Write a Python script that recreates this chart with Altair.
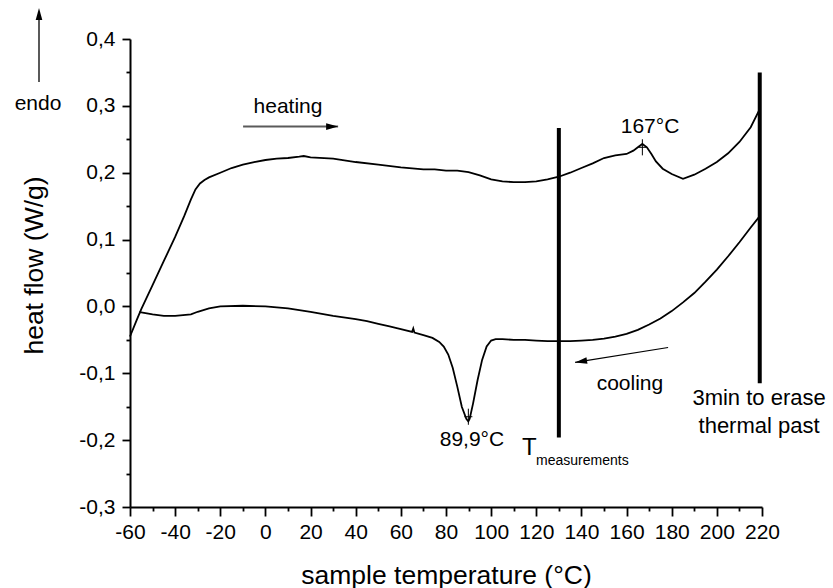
import altair as alt
import pandas as pd

# ---- data ----
heat_x = [-60, -57, -55, -50, -45, -40, -36, -33, -31, -29, -27, -25, -20, -15, -10, -5, 0, 5, 10, 15, 17,
          20, 30, 40, 50, 60, 70, 75, 80, 85, 90, 95, 100, 105, 110, 115, 120, 125, 130, 135, 140, 145,
          150, 155, 160, 163, 165, 167, 169, 171, 173, 176, 180, 185, 190, 195, 200, 205, 210, 215, 219]
heat_y = [-0.045, -0.02, -0.004, 0.032, 0.068, 0.104, 0.135, 0.16, 0.175, 0.184, 0.189, 0.193, 0.2, 0.207,
          0.212, 0.216, 0.219, 0.221, 0.222, 0.224, 0.225, 0.223, 0.221, 0.216, 0.212, 0.208, 0.205, 0.205,
          0.203, 0.203, 0.201, 0.196, 0.19, 0.187, 0.186, 0.186, 0.187, 0.19, 0.194, 0.2, 0.207, 0.214,
          0.222, 0.226, 0.228, 0.233, 0.238, 0.243, 0.238, 0.228, 0.217, 0.206, 0.198, 0.191, 0.197, 0.206,
          0.216, 0.229, 0.246, 0.268, 0.295]

cool_x = [219, 215, 210, 205, 200, 195, 190, 185, 180, 175, 170, 165, 160, 155, 150, 145, 140, 135, 130,
          125, 120, 115, 110, 105, 102, 100, 98, 96, 94, 92, 90.5, 89.9, 89, 87, 85, 83, 81, 79, 77, 74,
          70, 66, 65.5, 65, 60, 55, 50, 45, 40, 30, 20, 10, 0, -10, -20, -25, -30, -33, -40, -45, -50,
          -55, -56]
cool_y = [0.135, 0.118, 0.096, 0.075, 0.055, 0.037, 0.02, 0.006, -0.007, -0.018, -0.027, -0.035, -0.041,
          -0.045, -0.048, -0.05, -0.051, -0.052, -0.052, -0.052, -0.051, -0.05, -0.05, -0.049, -0.049,
          -0.051, -0.06, -0.08, -0.11, -0.145, -0.168, -0.172, -0.168, -0.15, -0.12, -0.092, -0.072,
          -0.06, -0.053, -0.047, -0.043, -0.039, -0.033, -0.038, -0.034, -0.03, -0.026, -0.022, -0.019,
          -0.014, -0.008, -0.003, 0.0, 0.001, 0.0, -0.003, -0.008, -0.012, -0.014, -0.014, -0.012,
          -0.009, -0.009]

marker_x = [130, 219]
marker_top = [0.267, 0.35]
marker_bottom = [-0.196, -0.115]

peak_x = [167, 89.9]
peak_y = [0.238, -0.165]

x_ticks = [-60, -50, -40, -30, -20, -10, 0, 10, 20, 30, 40, 50, 60, 70, 80, 90, 100, 110, 120, 130,
           140, 150, 160, 170, 180, 190, 200, 210, 220]
y_ticks = [-0.3, -0.25, -0.2, -0.15, -0.1, -0.05, 0.0, 0.05, 0.1, 0.15, 0.2, 0.25, 0.3, 0.35, 0.4]

FONT = "Liberation Sans"

curves = pd.concat([
    pd.DataFrame({"T": heat_x, "hf": heat_y, "run": "heating"}),
    pd.DataFrame({"T": cool_x, "hf": cool_y, "run": "cooling"}),
])

x_scale = alt.Scale(domain=[-60, 220], nice=False, zero=False)
y_scale = alt.Scale(domain=[-0.3, 0.4], nice=False, zero=False)

major_x = "datum.value % 20 === 0"
major_y = "abs(datum.value * 10 - round(datum.value * 10)) < 0.000001"

x_axis = alt.Axis(
    values=x_ticks,
    labelExpr=f"({major_x}) ? replace(format(datum.value, 'd'), '\u2212', '-') : ''",
    tickSize={"condition": {"test": major_x, "value": 9}, "value": 4},
    labelFontSize=21, labelPadding=5, labelOverlap=False, labelFlush=False,
    titleFontSize=26.5, titleY=76, titleBaseline="alphabetic",
)
y_axis = alt.Axis(
    values=y_ticks,
    labelExpr=f"({major_y}) ? replace(replace(format(datum.value, '.1f'), '.', ','), '\u2212', '-') : ''",
    tickSize={"condition": {"test": major_y, "value": 8}, "value": 4},
    labelFontSize=21, labelPadding=7, labelOverlap=False, labelFlush=False,
    titleFontSize=26.5, titleX=-96, titleY=226, titleAngle=270,
    titleAlign="center", titleBaseline="middle",
)

X_TITLE = "sample temperature (°C)"
Y_TITLE = "heat flow (W/g)"


def X(field):
    return alt.X(field, type="quantitative", scale=x_scale, axis=x_axis, title=X_TITLE)


def Y(field):
    return alt.Y(field, type="quantitative", scale=y_scale, axis=y_axis, title=Y_TITLE)


lines = alt.Chart(curves).mark_line(color="black", strokeWidth=1.8).encode(
    x=X("T"), y=Y("hf"), detail="run:N"
)

markers = alt.Chart(pd.DataFrame({"T": marker_x, "top": marker_top, "bottom": marker_bottom})).mark_rule(
    color="black", strokeWidth=4
).encode(x=X("T"), y=Y("top"), y2="bottom:Q")

peaks = alt.Chart(pd.DataFrame({"T": peak_x, "hf": peak_y})).mark_point(
    shape="M0,-1.2L0,1.2M-0.6,0L0.6,0", filled=False, color="black", strokeWidth=1, size=180, opacity=1
).encode(x=X("T"), y=Y("hf"))


def label(text, x, y, size=21, align="center"):
    return alt.Chart(pd.DataFrame({"T": [x], "hf": [y], "txt": [text]})).mark_text(
        font=FONT, fontSize=size, color="black", align=align, baseline="alphabetic"
    ).encode(x=X("T"), y=Y("hf"), text="txt:N")


texts = [
    label("heating", 10, 0.29),
    label("cooling", 161.5, -0.1245),
    label("167°C", 170.4, 0.26),
    label("89,9°C", 91.5, -0.209),
    label("T", 113.7, -0.222, size=24, align="left"),
    label("measurements", 119.9, -0.237, size=14, align="left"),
    label("3min to erase", 218.7, -0.147, size=22),
    label("thermal past", 218.7, -0.189, size=22),
]

# arrows in data space
arrow_df = pd.DataFrame({
    "T": [-9.9, 178.4], "hf": [0.269, -0.0614],
    "T2": [32.2, 137.2], "hf2": [0.269, -0.0838],
    "col": ["#5a5a5a", "black"], "w": [2.0, 1.2],
})
arrow_lines = alt.Chart(arrow_df).mark_rule().encode(
    x=X("T"), x2="T2:Q", y=Y("hf"), y2="hf2:Q",
    color=alt.Color("col:N", scale=None), strokeWidth=alt.StrokeWidth("w:Q", scale=None),
)
head_df = pd.DataFrame({"T": [32.2, 137.2], "hf": [0.269, -0.0838], "ang": [90, 261]})
HEAD = "M0,0L0.55,2L-0.55,2Z"
arrow_heads = alt.Chart(head_df).mark_point(
    shape=HEAD, filled=True, color="black", size=144, opacity=1
).encode(x=X("T"), y=Y("hf"), angle=alt.Angle("ang:Q", scale=None))

# "endo" indicator to the left of the plot (pixel placed, outside the data area)
endo_line = alt.Chart(pd.DataFrame({"a": [0]})).mark_rule(color="black", strokeWidth=1.3).encode(
    x=alt.value(-91), y=alt.value(-25), y2=alt.value(43)
)
endo_head = alt.Chart(pd.DataFrame({"a": [0]})).mark_point(
    shape=HEAD, filled=True, color="black", size=144, opacity=1
).encode(x=alt.value(-91), y=alt.value(-31))
endo_text = alt.Chart(pd.DataFrame({"txt": ["endo"]})).mark_text(
    font=FONT, fontSize=21, color="black", align="center", baseline="alphabetic"
).encode(x=alt.value(-92), y=alt.value(71), text="txt:N")

chart = alt.layer(
    lines, markers, peaks, arrow_lines, arrow_heads, *texts, endo_line, endo_head, endo_text
).properties(
    width=632, height=468,
    padding={"left": 130, "top": 39, "right": 71, "bottom": 81},
    autosize=alt.AutoSizeParams(type="none"),
).configure_view(stroke=None).configure_axis(
    grid=False, domainColor="black", domainWidth=2, tickColor="black", tickWidth=1.8,
    labelColor="black", titleColor="black", labelFont=FONT, titleFont=FONT,
    titleFontWeight="normal",
)

chart.save("out.html", embed_options={"renderer": "svg", "actions": False})
